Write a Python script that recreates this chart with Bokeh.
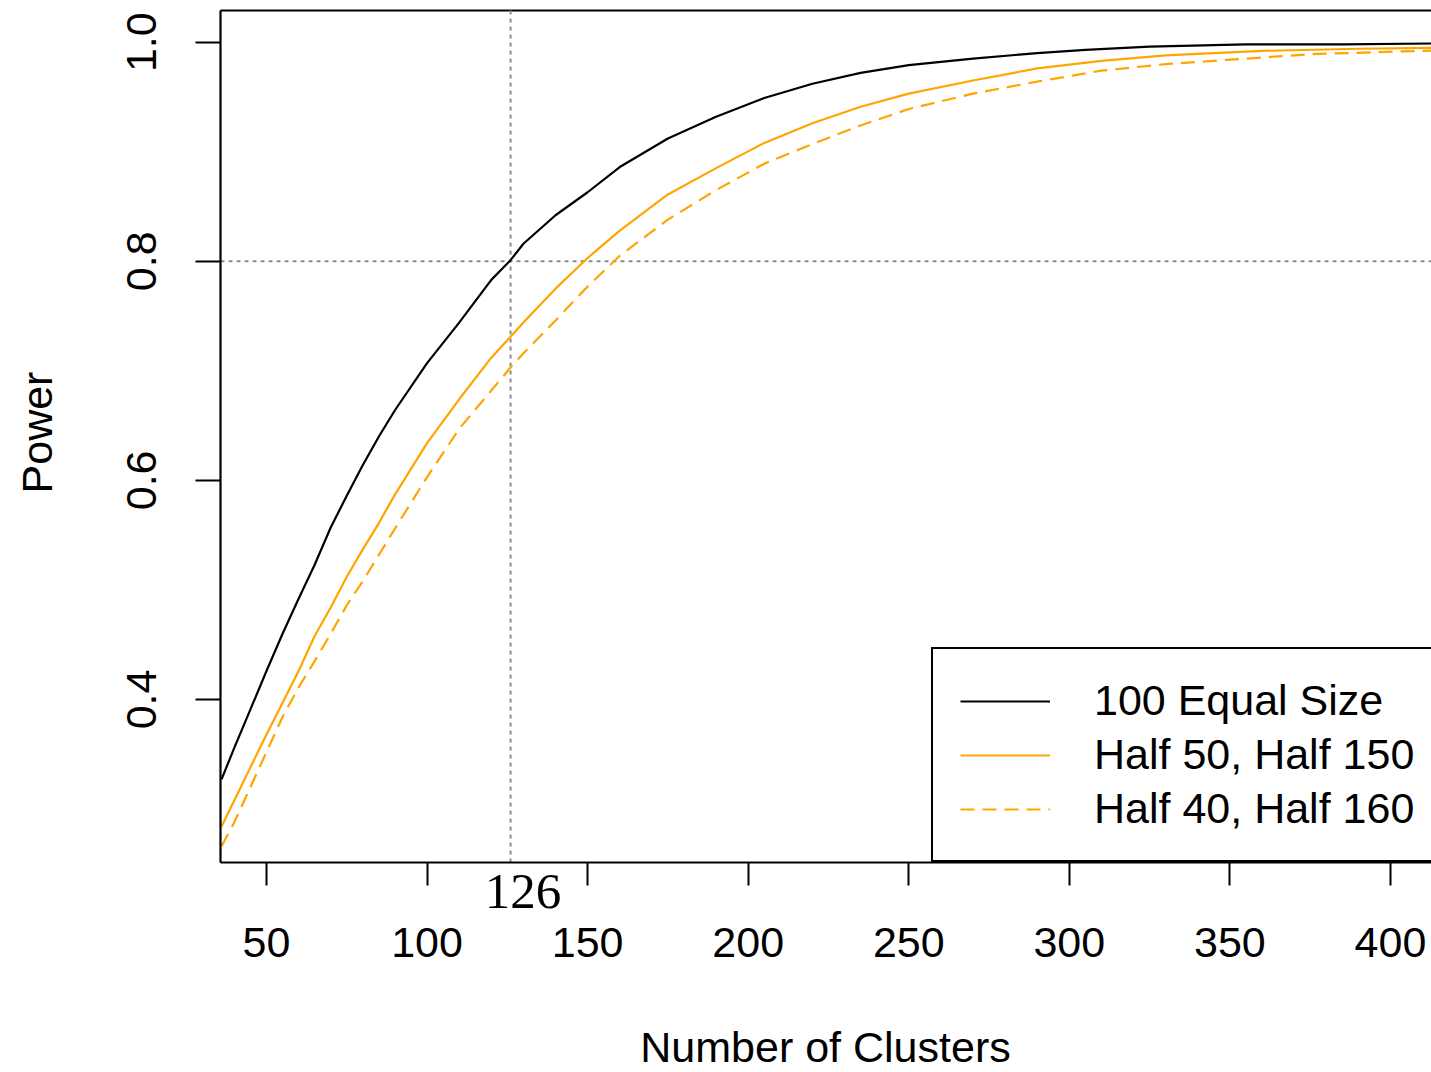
import math
from bokeh.plotting import figure
from bokeh.models import (Range1d, FixedTicker, Label, Legend, LegendItem,
                          CustomJSTickFormatter)
from bokeh.embed import file_html
from bokeh.resources import INLINE

# ---- data ----
x_equal = [36, 40, 45, 50, 55, 60, 65, 70, 75, 80, 85, 90, 100, 110, 120, 126, 130,
           140, 150, 160, 175, 190, 205, 220, 235, 250, 270, 290, 305, 325, 355, 385, 420]
y_equal = [0.327, 0.356, 0.391, 0.426, 0.460, 0.492, 0.523, 0.557, 0.586, 0.614, 0.640,
           0.664, 0.707, 0.744, 0.783, 0.801, 0.816, 0.842, 0.863, 0.886, 0.912, 0.932,
           0.949, 0.962, 0.972, 0.979, 0.985, 0.990, 0.993, 0.996, 0.998, 0.998, 0.999]

x_h50 = [36, 40, 45, 50, 55, 60, 65, 70, 75, 80, 85, 90, 100, 110, 120, 126, 130,
         140, 150, 160, 175, 190, 205, 220, 235, 250, 270, 290, 310, 330, 360, 390, 420]
y_h50 = [0.284, 0.308, 0.338, 0.368, 0.397, 0.426, 0.458, 0.484, 0.512, 0.537, 0.561,
         0.587, 0.634, 0.674, 0.712, 0.731, 0.744, 0.775, 0.803, 0.828, 0.861, 0.885,
         0.908, 0.926, 0.941, 0.953, 0.965, 0.976, 0.983, 0.988, 0.992, 0.994, 0.995]

x_h40 = [36, 40, 45, 50, 55, 60, 65, 70, 75, 80, 90, 100, 110, 120, 126, 130, 140,
         150, 160, 175, 190, 205, 220, 235, 250, 270, 290, 310, 330, 350, 375, 420]
y_h40 = [0.266, 0.288, 0.320, 0.352, 0.384, 0.411, 0.435, 0.460, 0.486, 0.508, 0.556,
         0.603, 0.647, 0.682, 0.703, 0.716, 0.746, 0.777, 0.805, 0.838, 0.865, 0.889,
         0.907, 0.924, 0.939, 0.953, 0.964, 0.974, 0.980, 0.984, 0.989, 0.993]

labels = ["100 Equal Size", "Half 50, Half 150", "Half 40, Half 160"]
x_ticks = [50, 100, 150, 200, 250, 300, 350, 400]
y_ticks = [0.4, 0.6, 0.8, 1.0]
x_title = "Number of Clusters"
y_title = "Power"
ref_x = 126
ref_y = 0.8

FONT = "Liberation Sans"
FS = "43px"
W, H = 1431, 1072

# ---- geometry: the frame covers the whole canvas, the plot box sits inside ----
PXX = 3.2114          # px per x unit
PXY = 1095.5          # px per y unit
BOX_L, BOX_T, BOX_B = 220, 10, 862      # box edges in px
X_LO, X_HI = 35.68, 412.78              # box x limits (data)
Y_LO, Y_HI = 0.2512, 1.0289             # box y limits (data)

def xd(px):
    return X_LO + (px - BOX_L) / PXX

def yd(py):
    return Y_HI - (py - BOX_T) / PXY

p = figure(width=W, height=H, output_backend="svg", toolbar_location=None,
           x_range=Range1d(xd(0), xd(W)), y_range=Range1d(yd(H), yd(0)),
           min_border_left=0, min_border_right=0, min_border_top=0,
           min_border_bottom=0)
p.grid.visible = False
p.outline_line_color = None
p.background_fill_color = "white"
p.border_fill_color = "white"

for ax in (p.xaxis[0], p.yaxis[0]):
    ax.axis_line_color = "black"
    ax.axis_line_width = 2.2
    ax.major_tick_line_color = "black"
    ax.major_tick_line_width = 2
    ax.major_tick_in = 0
    ax.minor_tick_line_color = None
    ax.major_label_text_font = FONT
    ax.major_label_text_font_size = FS
    ax.major_label_text_color = "black"

p.xaxis.fixed_location = Y_LO
p.xaxis.bounds = (X_LO, X_HI)
p.yaxis.fixed_location = X_LO
p.yaxis.bounds = (Y_LO, Y_HI)
p.xaxis.ticker = FixedTicker(ticks=x_ticks)
p.yaxis.ticker = FixedTicker(ticks=y_ticks)
p.xaxis.major_tick_out = 23
p.yaxis.major_tick_out = 25
p.xaxis.major_label_standoff = 43
p.yaxis.major_label_standoff = 39
p.yaxis.major_label_orientation = "vertical"
p.yaxis.formatter = CustomJSTickFormatter(code="return tick.toFixed(1);")

# top border of the box
p.segment(x0=[X_LO], y0=[Y_HI], x1=[X_HI], y1=[Y_HI], line_color="black",
          line_width=2.2)

# reference lines
p.segment(x0=[ref_x], y0=[Y_LO], x1=[ref_x], y1=[Y_HI],
          line_color="#8c8c8c", line_width=2, line_dash="4 4")
p.segment(x0=[X_LO], y0=[ref_y], x1=[X_HI], y1=[ref_y],
          line_color="#8c8c8c", line_width=2, line_dash="4 4")

r1 = p.line(x_equal, y_equal, line_color="black", line_width=2.2)
r2 = p.line(x_h50, y_h50, line_color="orange", line_width=2.2)
r3 = p.line(x_h40, y_h40, line_color="orange", line_width=2.2, line_dash="14 8")

# "126" annotation under the box (baseline compensated for renderer offset)
p.add_layout(Label(x=ref_x, y=yd(910 - 19), x_offset=12.4,
                   text=str(ref_x), level="overlay",
                   text_font="Liberation Serif", text_font_size="51px",
                   text_align="center", text_baseline="alphabetic",
                   text_color="black"))

# axis titles
p.add_layout(Label(x=xd(825), y=yd(1062 - 16), text=x_title, level="overlay",
                   text_font=FONT, text_font_size=FS,
                   text_align="center", text_baseline="alphabetic",
                   text_color="black"))
p.add_layout(Label(x=xd(52 - 16), y=yd(432), text=y_title, level="overlay",
                   angle=math.pi / 2,
                   text_font=FONT, text_font_size=FS,
                   text_align="center", text_baseline="alphabetic",
                   text_color="black"))

legend = Legend(items=[LegendItem(label=labels[0], renderers=[r1]),
                       LegendItem(label=labels[1], renderers=[r2]),
                       LegendItem(label=labels[2], renderers=[r3])],
                location=(931, H - BOX_B), padding=27, spacing=5, margin=0,
                label_text_font=FONT, label_text_font_size=FS,
                label_text_color="black", label_height=46, glyph_height=46,
                glyph_width=90, label_standoff=44,
                border_line_color="black", border_line_width=2,
                border_line_alpha=1,
                background_fill_color="white", background_fill_alpha=1)
p.add_layout(legend, "center")

open("out.html", "w").write(file_html(p, INLINE))
